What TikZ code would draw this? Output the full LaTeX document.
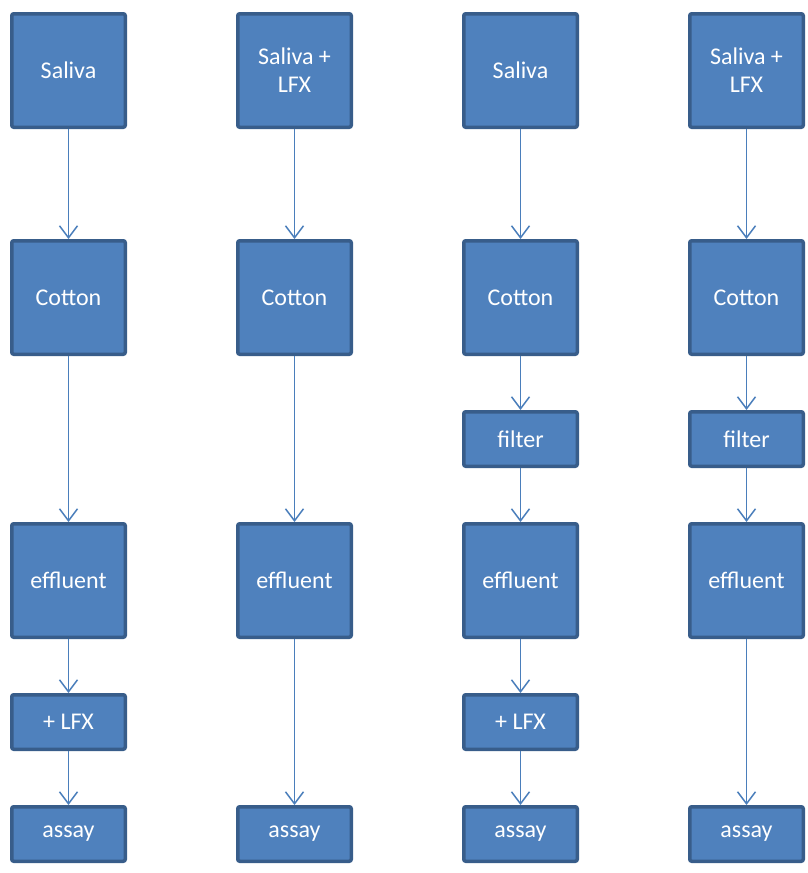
\documentclass[tikz,border=0pt]{standalone}
\usepackage{fontspec}
\setmainfont{Carlito}
\usepackage{xcolor}
\usepackage{tikz}
\usetikzlibrary{positioning,arrows.meta}
\definecolor{boxfill}{HTML}{4F81BD}
\definecolor{boxline}{HTML}{385D8A}
\definecolor{flowline}{HTML}{4A7EBB}

\begin{document}
\begin{tikzpicture}[
    x=1pt, y=-1pt,
    node distance=54pt and 109pt,
    box/.style={rectangle, draw=boxline, fill=boxfill, line width=3.5pt, rounded corners=2pt, minimum width=113.5pt, minimum height=113.5pt, inner sep=2pt, text=white, align=center, font=\fontsize{24}{28}\selectfont},
    smallbox/.style={box, minimum height=54.5pt},
    flow/.style={draw=flowline, line width=1.5pt, -{Straight Barb[length=12pt,width=18pt]}}
]
    \useasboundingbox (0,0) rectangle (808,873);

    % Column 1
    \node[box] (sal1) at (68.5,70.5) {Saliva};
    \node[box, below=110pt of sal1] (cot1) {Cotton};
    \node[box, below=166pt of cot1] (eff1) {effluent};
    \node[smallbox, below=of eff1] (lfx1) {+ LFX};
    \node[smallbox, below=of lfx1] (ass1) {assay};

    % Column 2
    \node[box, right=of sal1] (sal2) {Saliva +\\LFX};
    \node[box, right=of cot1] (cot2) {Cotton};
    \node[box, right=of eff1] (eff2) {effluent};
    \node[smallbox, right=of ass1] (ass2) {assay};

    % Column 3
    \node[box, right=of sal2] (sal3) {Saliva};
    \node[box, right=of cot2] (cot3) {Cotton};
    \node[smallbox, below=of cot3] (fil3) {filter};
    \node[box, right=of eff2] (eff3) {effluent};
    \node[smallbox, below=of eff3] (lfx3) {+ LFX};
    \node[smallbox, right=of ass2] (ass3) {assay};

    % Column 4
    \node[box, right=of sal3] (sal4) {Saliva +\\LFX};
    \node[box, right=of cot3] (cot4) {Cotton};
    \node[smallbox, right=of fil3] (fil4) {filter};
    \node[box, right=of eff3] (eff4) {effluent};
    \node[smallbox, right=of ass3] (ass4) {assay};

    % Connections
    \draw[flow] (sal1) -- (cot1);
    \draw[flow] (cot1) -- (eff1);
    \draw[flow] (eff1) -- (lfx1);
    \draw[flow] (lfx1) -- (ass1);
    \draw[flow] (sal2) -- (cot2);
    \draw[flow] (cot2) -- (eff2);
    \draw[flow] (eff2) -- (ass2);
    \draw[flow] (sal3) -- (cot3);
    \draw[flow] (cot3) -- (fil3);
    \draw[flow] (fil3) -- (eff3);
    \draw[flow] (eff3) -- (lfx3);
    \draw[flow] (lfx3) -- (ass3);
    \draw[flow] (sal4) -- (cot4);
    \draw[flow] (cot4) -- (fil4);
    \draw[flow] (fil4) -- (eff4);
    \draw[flow] (eff4) -- (ass4);
\end{tikzpicture}
\end{document}
